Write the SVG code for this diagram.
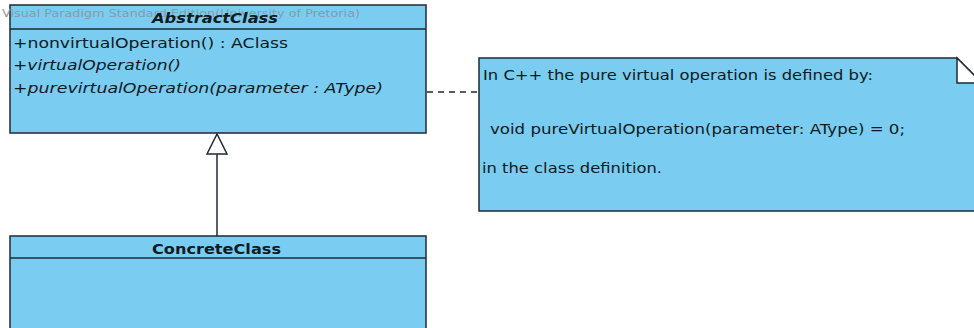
<svg xmlns="http://www.w3.org/2000/svg" width="974" height="328" viewBox="0 0 974 328">
<style>
.box{fill:#7acdf1;stroke:#1f2a33;stroke-width:1.5}
.ln{stroke:#1f2a33;stroke-width:1.5;fill:none}
.t{font-family:"DejaVu Sans","Liberation Sans",sans-serif;font-size:14px;fill:#0f1a22}
.i{font-style:italic}
.b{font-weight:bold}
.wm{font-family:"DejaVu Sans","Liberation Sans",sans-serif;font-size:10px;fill:#8a9aa5}
</style>
<rect width="974" height="328" fill="#ffffff"/>
<g id="connectors">
<line class="ln" x1="217" y1="154" x2="217" y2="236"/>
<polygon points="217,134 207,154 227,154" fill="#ffffff" stroke="#1f2a33" stroke-width="1.5"/>
<line class="ln" x1="427" y1="92" x2="479" y2="92" stroke-dasharray="6,5"/>
</g>
<g id="AbstractClass">
<rect class="box" x="10" y="5" width="416" height="128"/>
<line class="ln" x1="10" y1="29" x2="426" y2="29"/>
<text class="wm" x="2" y="17" textLength="358" lengthAdjust="spacingAndGlyphs">Visual Paradigm Standard Edition(University of Pretoria)</text>
<text class="t b i" x="152" y="23" textLength="126" lengthAdjust="spacingAndGlyphs">AbstractClass</text>
<text class="t" x="13" y="48" textLength="275" lengthAdjust="spacingAndGlyphs">+nonvirtualOperation() : AClass</text>
<text class="t i" x="13" y="70" textLength="168" lengthAdjust="spacingAndGlyphs">+virtualOperation()</text>
<text class="t i" x="13" y="93" textLength="370" lengthAdjust="spacingAndGlyphs">+purevirtualOperation(parameter : AType)</text>
</g>
<g id="ConcreteClass">
<rect class="box" x="10" y="236" width="416" height="100"/>
<line class="ln" x1="10" y1="258" x2="426" y2="258"/>
<text class="t b" x="152" y="254" textLength="129" lengthAdjust="spacingAndGlyphs">ConcreteClass</text>
</g>
<g id="Note">
<path class="box" d="M479,58 H957 L982,83 V211 H479 Z"/>
<path d="M957,58 V83 H982 Z" fill="#ffffff" stroke="#1f2a33" stroke-width="1.5"/>
<text class="t" x="483" y="80" textLength="390" lengthAdjust="spacingAndGlyphs">In C++ the pure virtual operation is defined by:</text>
<text class="t" x="490" y="134" textLength="415" lengthAdjust="spacingAndGlyphs">void pureVirtualOperation(parameter: AType) = 0;</text>
<text class="t" x="482" y="173" textLength="180" lengthAdjust="spacingAndGlyphs">in the class definition.</text>
</g>
</svg>
